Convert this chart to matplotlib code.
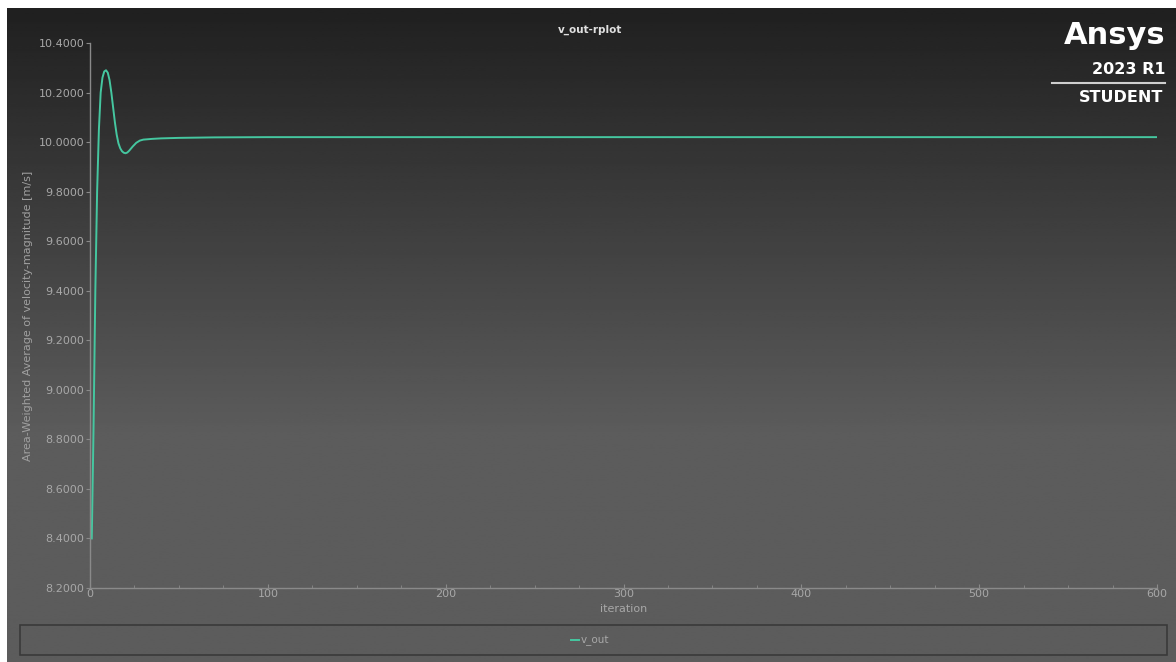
import numpy as np
import matplotlib
matplotlib.use("Agg")
import matplotlib.pyplot as plt
from matplotlib.patches import Rectangle

# values
iterations = [1, 2, 3, 4, 5, 6, 7, 8, 9, 10, 11, 12, 13, 14, 15, 16, 17, 18, 19, 20,
              21, 22, 24, 26, 28, 30, 35, 40, 50, 70, 100, 200, 300, 400, 500, 600]
v_out = [8.40, 8.85, 9.40, 9.80, 10.05, 10.20, 10.26, 10.285, 10.29, 10.28, 10.25, 10.20,
         10.14, 10.08, 10.03, 9.995, 9.975, 9.963, 9.957, 9.955,
         9.958, 9.965, 9.982, 9.997, 10.006, 10.010, 10.013, 10.015, 10.017, 10.019,
         10.020, 10.020, 10.020, 10.020, 10.020, 10.020]
x_ticks = [0, 100, 200, 300, 400, 500, 600]
y_ticks = [8.2, 8.4, 8.6, 8.8, 9.0, 9.2, 9.4, 9.6, 9.8, 10.0, 10.2, 10.4]

W, H = 1176, 662
fig = plt.figure(figsize=(W / 100, H / 100), dpi=100)
fig.patch.set_facecolor('white')

# dark-to-grey gradient background (white strip at top and left)
bg = fig.add_axes([7 / W, 0, 1 - 7 / W, 1 - 8 / H])
bg.set_zorder(-5)
rows = np.linspace(0, 1, 300)
shade = np.clip(0.125 + (0.36 - 0.125) * rows / 0.65, 0, 0.36)
grad = np.repeat(shade[:, None], 2, axis=1)
bg.imshow(grad, cmap='gray', vmin=0, vmax=1, aspect='auto', extent=[0, 1, 1, 0])
bg.set_xlim(0, 1)
bg.set_ylim(1, 0)
bg.axis('off')

ax = fig.add_axes([90 / W, 1 - 588 / H, (1157 - 90) / W, (588 - 43) / H])
ax.patch.set_alpha(0)
ax.plot(iterations, v_out, color='#45c7a0', lw=1.4, label='v_out')
ax.set_xlim(0, 600)
ax.set_ylim(8.2, 10.4)
ax.set_xticks(x_ticks)
ax.set_yticks(y_ticks)
ax.set_yticklabels([f'{v:.4f}' for v in y_ticks])
ax.set_xticks(np.arange(0, 601, 25), minor=True)
for s in ['top', 'right']:
    ax.spines[s].set_visible(False)
for s in ['left', 'bottom']:
    ax.spines[s].set_color('#8a8a8a')
    ax.spines[s].set_linewidth(1)
ax.tick_params(colors='#8a8a8a', labelcolor='#a8a8a8', labelsize=8, length=3, pad=1)
ax.tick_params(axis='x', which='minor', direction='in', length=2, colors='#8a8a8a')
ax.tick_params(axis='x', direction='in', length=3)
ax.set_xlabel('iteration', color='#a8a8a8', fontsize=8, labelpad=3)
ax.set_ylabel('Area-Weighted Average of velocity-magnitude [m/s]', color='#a0a0a0',
              fontsize=8, labelpad=4)
fig.text(590 / W, 1 - 30 / H, 'v_out-rplot', color='#e0e0e0', fontsize=7.5,
         fontweight='bold', ha='center', va='center')

# legend box
fig.patches.append(Rectangle((20 / W, 1 - 655 / H), 1147 / W, 30 / H,
                             transform=fig.transFigure, facecolor='none',
                             edgecolor='#3a3a3a', lw=1.2))
leg = fig.legend(loc='center', bbox_to_anchor=(590 / W, 1 - 641 / H), frameon=False,
                 fontsize=7.5, handlelength=0.8, handletextpad=0.2, labelcolor='#a8a8a8')

# watermark
fig.text(1165 / W, 1 - 35 / H, 'Ansys', color='white', fontsize=22, fontweight='bold',
         ha='right', va='center')
fig.text(1165 / W, 1 - 69 / H, '2023 R1', color='white', fontsize=11.5, fontweight='bold',
         ha='right', va='center')
fig.add_artist(plt.Line2D([1052 / W, 1165 / W], [1 - 83 / H, 1 - 83 / H],
                          transform=fig.transFigure, color='#cfcfcf', lw=1.5))
fig.text(1163 / W, 1 - 98 / H, 'STUDENT', color='white', fontsize=11.5, fontweight='bold',
         ha='right', va='center')

fig.savefig('out.png', dpi=100)
